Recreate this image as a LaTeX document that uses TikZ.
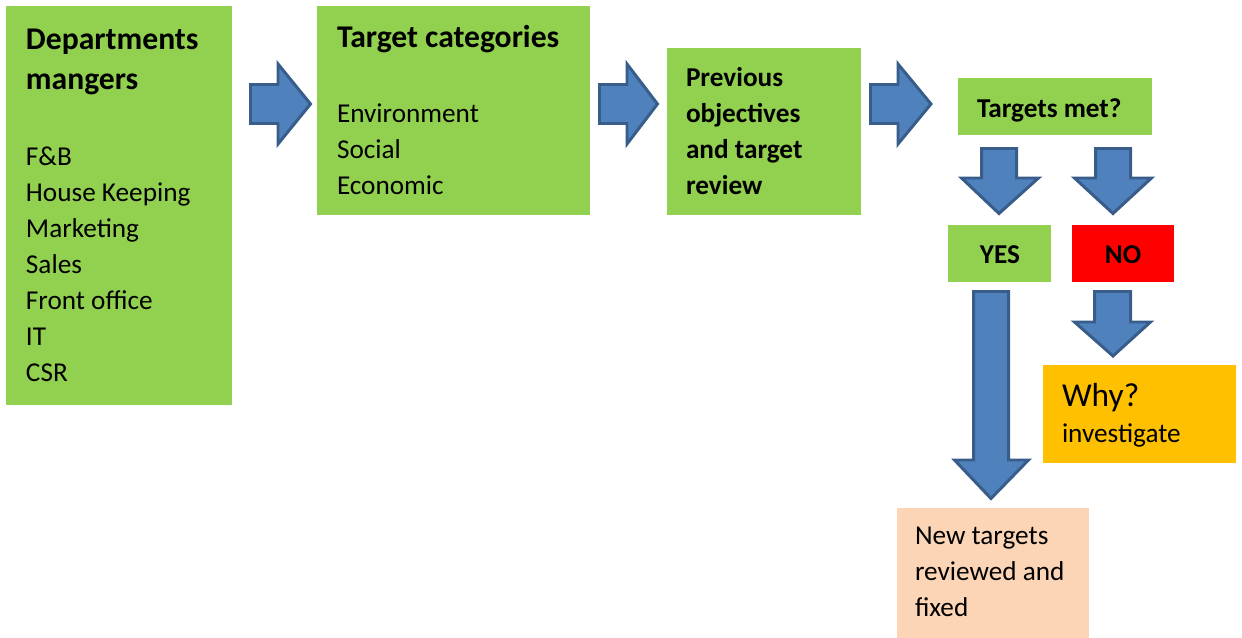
\documentclass[tikz,border=0pt]{standalone}
\usepackage{fontspec}
\setmainfont{Carlito}
\usetikzlibrary{fit}
\definecolor{boxgreen}{HTML}{92D050}
\definecolor{boxred}{HTML}{FF0000}
\definecolor{boxorange}{HTML}{FFC000}
\definecolor{boxpeach}{HTML}{FBD5B5}
\definecolor{arrfill}{HTML}{4F81BD}
\definecolor{arrline}{HTML}{385D8A}
\tikzset{
  box/.style={inner sep=0pt, outer sep=0pt, draw=none},
  txt/.style={inner sep=0pt, outer sep=0pt, anchor=base west, align=left,
    font=\fontsize{15.5pt}{20.5pt}\selectfont},
  ttl/.style={txt, font=\fontsize{18pt}{23.3pt}\selectfont\bfseries},
  btxt/.style={txt, font=\fontsize{15.5pt}{20.5pt}\selectfont\bfseries},
  barrow/.style={fill=arrfill, draw=arrline, line width=1.7pt, line join=miter},
}
\begin{document}
\begin{tikzpicture}[x=0.02cm, y=-0.02cm]
\useasboundingbox (0,0) rectangle (1242,638);
% boxes
\node[box, fill=boxgreen, fit={(6,6) (232,405)}] (dept) {};
\node[box, fill=boxgreen, fit={(317,6) (590,215)}] (cat) {};
\node[box, fill=boxgreen, fit={(667,48) (861,215)}] (prev) {};
\node[box, fill=boxgreen, fit={(958,78) (1152,135)}] (met) {};
\node[box, fill=boxgreen, fit={(948,225) (1051,282)}] (yes) {};
\node[box, fill=boxred, fit={(1072,225) (1174,282)}] (no) {};
\node[box, fill=boxorange, fit={(1043,365) (1236,463)}] (why) {};
\node[box, fill=boxpeach, fit={(897,508) (1089,638)}] (new) {};
% texts (anchored at the baseline of their last line)
\node[ttl] (deptT) at (26,90) {Departments\\mangers};
\node[txt] (deptL) at (26,382) {F\&B\\House Keeping\\Marketing\\Sales\\Front office\\IT\\CSR};
\node[ttl] (catT) at (337,48) {Target categories};
\node[txt] (catL) at (337,195) {Environment\\Social\\Economic};
\node[btxt] (prevT) at (686,195) {Previous\\objectives\\and target\\review};
\node[btxt] (metT) at (977,118) {Targets met?};
\node[btxt, anchor=base] (yesT) at (1000,264) {YES};
\node[btxt, anchor=base] (noT) at (1123,264) {NO};
\node[txt, font=\fontsize{19pt}{23pt}\selectfont] (whyT) at (1062,407) {Why?};
\node[txt] (whyL) at (1062,443) {investigate};
\node[txt] (newT) at (915,617) {New targets\\reviewed and\\fixed};
% right block arrows
\draw[barrow] (250.5,84.5) -- (278,84.5) -- (278,64) -- (310.5,104) -- (278,144) -- (278,123.5) -- (250.5,123.5) -- cycle;
\draw[barrow] (599.5,84.5) -- (627,84.5) -- (627,64) -- (657.5,104) -- (627,144) -- (627,123.5) -- (599.5,123.5) -- cycle;
\draw[barrow] (870.5,84.5) -- (898,84.5) -- (898,64) -- (931,104) -- (898,144) -- (898,123.5) -- (870.5,123.5) -- cycle;
% down block arrows
\draw[barrow] (981.5,148.5) -- (1016.5,148.5) -- (1016.5,178) -- (1038.5,178) -- (999,213.5) -- (961.5,178) -- (981.5,178) -- cycle;
\draw[barrow] (1095.5,148.5) -- (1130.5,148.5) -- (1130.5,178) -- (1151.5,178) -- (1113,213.5) -- (1074.5,178) -- (1095.5,178) -- cycle;
\draw[barrow] (1094.5,291.5) -- (1130.5,291.5) -- (1130.5,322) -- (1150.5,322) -- (1113,356) -- (1074.5,322) -- (1094.5,322) -- cycle;
\draw[barrow] (973.5,291.5) -- (1008.5,291.5) -- (1008.5,460) -- (1028.5,460) -- (991,498.5) -- (954.5,460) -- (973.5,460) -- cycle;
\end{tikzpicture}
\end{document}
